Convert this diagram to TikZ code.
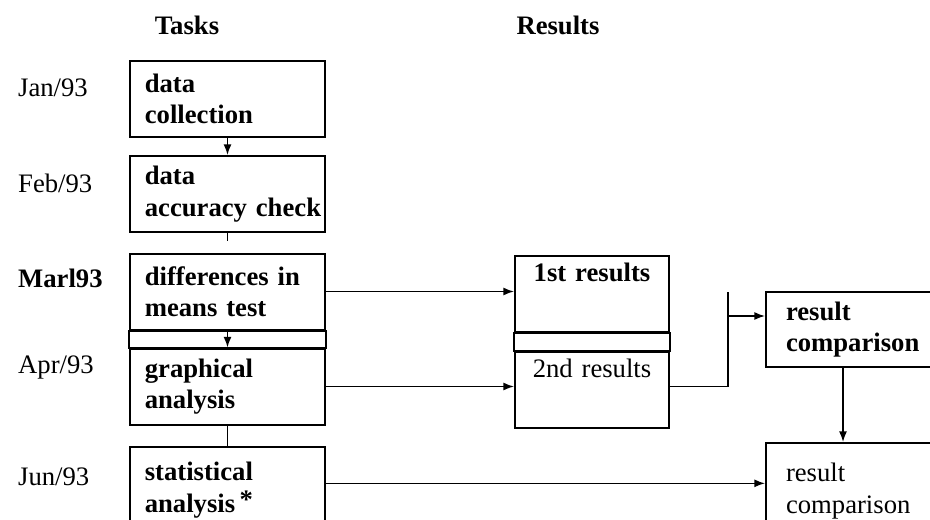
\documentclass[tikz,border=0pt]{standalone}
\usepackage{fontspec}
\setmainfont{Liberation Serif}
\usetikzlibrary{arrows.meta,calc,positioning}

\newcommand\planfont{\fontsize{20pt}{23.5pt}\selectfont}

\tikzset{
  task/.style={draw, line width=1.5pt, minimum width=146pt, minimum height=57pt,
    text width=124pt, inner xsep=11pt, align=left, font=\planfont\bfseries},
  res/.style={draw, line width=1.5pt, minimum width=115.5pt, minimum height=57pt,
    text width=100pt, align=center, font=\planfont},
  cmp/.style={draw, line width=1.5pt, minimum width=150pt, minimum height=56pt,
    text width=120pt, inner xsep=15pt, align=left, anchor=west, font=\planfont},
  date/.style={anchor=west, font=\planfont},
}

\begin{document}
\begin{tikzpicture}[x=0.75pt, y=-0.75pt, >={Latex[length=8pt,width=6pt]}, line width=1.1pt]
   \useasboundingbox (0,0) rectangle (930,520);
   \clip (0,0) rectangle (930,520);

   %headings
   \node[font=\planfont\bfseries] (tasks) at (187,25) {Tasks};
   \node[font=\planfont\bfseries] (results) at (558,25) {Results};

   %months
   \node[date] (jan) at (13,88) {Jan/93};
   \node[date] (feb) at (13,183) {Feb/93};
   \node[date, font=\planfont\bfseries] (mar) at (13,278) {Marl93};
   \node[date] (apr) at (13,368) {Apr/93};
   \node[date] (jun) at (13,477) {Jun/93};

   %tasks column
   \node[task] (collect) at (227.5,99) {data\\collection};
   \node[task] (check) at (227.5,194) {data\\accuracy~check};
   \node[task] (means) at (227.5,291.5) {differences in\\means test};
   \node[task] (graph) at (227.5,386.5) {graphical\\analysis};
   \node[task, minimum height=64.5pt] (stat) at (227.5,490) {statistical\\analysis\,\raisebox{3pt}{*}};

   %results column
   \node[res, font=\planfont\bfseries] (first) at (592,294) {1st results\\[2pt]\strut};
   \node[res] (second) at (592,390) {2nd results\\[2pt]\strut};

   %comparisons
   \node[cmp, font=\planfont\bfseries] (cmpa) at (765,329.5) {result\\comparison};
   \node[cmp, minimum height=72pt] (cmpb) at (765,491) {result\\comparison};

   \coordinate (jtop) at (728,292);
   \coordinate (jarr) at (728,316);

   %joins between boxes
   \draw[line width=1.5pt] (means.south west) rectangle (graph.north east);
   \draw[line width=1.5pt] (first.south west) rectangle (second.north east);

   \path[->]
     (collect) edge (check)
     (means) edge (graph)
     (means) edge (means -| first.west)
     (graph) edge (graph -| second.west);
   \draw[->] ([yshift=5pt]stat.east) -- ([yshift=5pt]stat.east -| cmpb.west);

   \draw[line width=0.8pt] (check.south) -- ++(0,8);
   \draw[line width=0.8pt] (graph) -- (stat);
   \draw[line width=0.8pt] (graph.east -| second.east) -| (jtop);
   \draw[->] (jarr) -- (jarr -| cmpa.west);
   \draw[->] ([xshift=58.5pt]cmpa.south west) -- ([xshift=58.5pt]cmpb.north west);
\end{tikzpicture}
\end{document}
